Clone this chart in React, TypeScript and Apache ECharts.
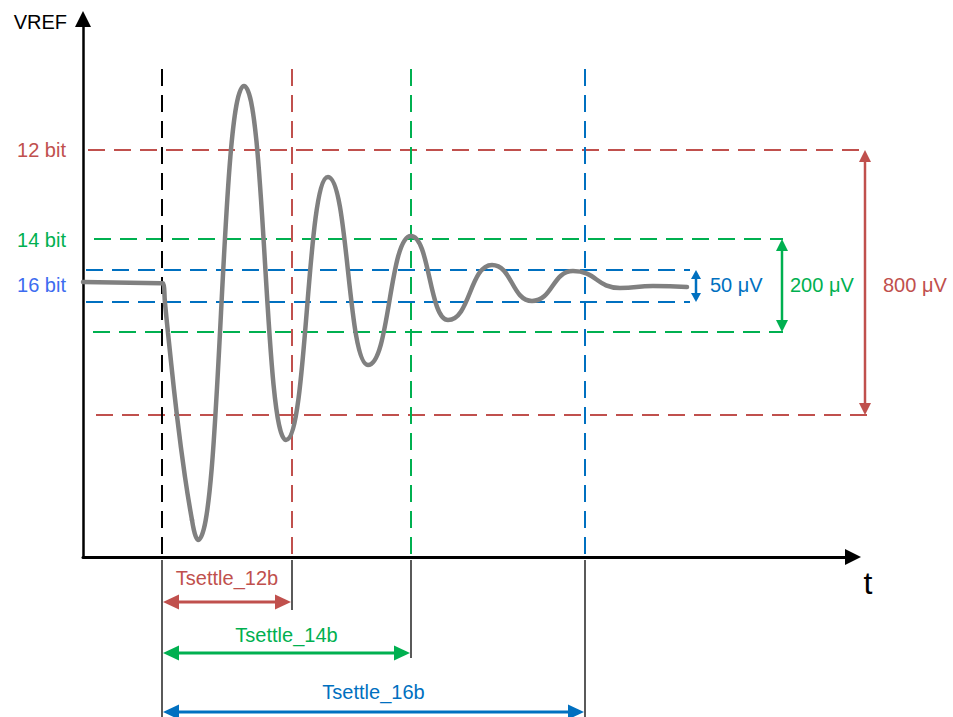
import React, { useEffect, useRef } from 'react';
import * as echarts from 'echarts';

const FONT = '"Liberation Sans", Arial, Helvetica, sans-serif';

// ---------- values ----------
// x: time units from the VREF axis, y: amplitude units above the t axis
// settled level before the step and the initial drop
const leadT = [0, 78, 80, 82, 85, 94, 102, 109];
const leadV = [275, 273.8, 273.7, 254, 224, 141, 80, 37];
// bottom of the drop, then the extremes of the ringing (troughs / crests) and the settled tail
const ringT = [109, 115, 161, 203, 245, 285, 328, 365, 409, 449, 490, 537, 570, 604];
const ringV = [37, 17, 471, 117, 380, 192, 321, 237, 292, 256, 286, 269, 271, 270];

const stepTime = 79;
const resolutions = ['12 bit', '14 bit', '16 bit'];
const bandUpper = [407, 318, 287];
const bandLower = [142, 225, 255];
const bandWidthLabels = ['800 μV', '200 μV', '50 μV'];
const settleTimes = [209, 328, 502];
const settleLabels = ['Tsettle_12b', 'Tsettle_14b', 'Tsettle_16b'];

// ---------- layout anchors (in axis units) ----------
const layout = {
  xMax: 762,
  yMax: 530,
  guideTop: 488,
  guideStartUpper: [5, 11, 3],
  guideStartLower: [13, 10, 3],
  guideEndUpper: [780, 700, 607],
  guideEndLower: [787, 700, 607],
  bandArrowX: [782, 699, 613],
  bandLabelX: [800, 707, 627],
  bandLabelY: 272,
  levelLabelX: -17,
  levelLabelY: [407, 317, 272],
  tsArrowY: [-45, -96, -155],
  tsLabelY: [-21, -78, -135],
  tickTop: -3,
  tickBottom: [-53, -101, -160],
  stepTickBottom: -160,
};

// ---------- styles ----------
const levelColors = ['#C0504D', '#00B050', '#0070C0'];
const levelLabelColors = ['#C0504D', '#00B050', '#3D6CF0'];
const bandArrowHead = [[12, 12], [12, 12], [9, 10]];
const bandArrowWidth = [2.5, 2.5, 2.5];
const tsArrowHead = [16, 15];
const DASH = [17, 9];
const WAVE_COLOR = '#808080';

type Seg = { x1: number; y1: number; x2: number; y2: number; color: string; width: number; dash: boolean };
type Arrow = { x1: number; y1: number; x2: number; y2: number; color: string; width: number; head: number[] };
type Label = { x: number; y: number; text: string; color: string; align: string; size: number };

function buildSegments(): Seg[] {
  const segs: Seg[] = [];
  resolutions.forEach((_, i) => {
    segs.push({ x1: layout.guideStartUpper[i], y1: bandUpper[i], x2: layout.guideEndUpper[i], y2: bandUpper[i], color: levelColors[i], width: 2, dash: true });
    segs.push({ x1: layout.guideStartLower[i], y1: bandLower[i], x2: layout.guideEndLower[i], y2: bandLower[i], color: levelColors[i], width: 2, dash: true });
  });
  segs.push({ x1: stepTime, y1: layout.guideTop, x2: stepTime, y2: 0, color: '#000000', width: 2, dash: true });
  settleTimes.forEach((t, i) => {
    segs.push({ x1: t, y1: layout.guideTop, x2: t, y2: 0, color: levelColors[i], width: 2, dash: true });
  });
  segs.push({ x1: stepTime, y1: layout.tickTop, x2: stepTime, y2: layout.stepTickBottom, color: '#000000', width: 1.3, dash: false });
  settleTimes.forEach((t, i) => {
    segs.push({ x1: t, y1: layout.tickTop, x2: t, y2: layout.tickBottom[i], color: '#000000', width: 1.3, dash: false });
  });
  return segs;
}

function buildArrows(): Arrow[] {
  const arr: Arrow[] = [];
  resolutions.forEach((_, i) => {
    arr.push({ x1: layout.bandArrowX[i], y1: bandLower[i], x2: layout.bandArrowX[i], y2: bandUpper[i], color: levelColors[i], width: bandArrowWidth[i], head: bandArrowHead[i] });
  });
  settleTimes.forEach((t, i) => {
    arr.push({ x1: stepTime + 1, y1: layout.tsArrowY[i], x2: t - 1, y2: layout.tsArrowY[i], color: levelColors[i], width: 3, head: tsArrowHead });
  });
  return arr;
}

function buildLabels(): Label[] {
  const labels: Label[] = [];
  resolutions.forEach((r, i) => {
    labels.push({ x: layout.levelLabelX, y: layout.levelLabelY[i], text: r, color: levelLabelColors[i], align: 'right', size: 20 });
    labels.push({ x: layout.bandLabelX[i], y: layout.bandLabelY, text: bandWidthLabels[i], color: levelColors[i], align: 'left', size: 20 });
  });
  settleTimes.forEach((t, i) => {
    labels.push({ x: (stepTime + t) / 2, y: layout.tsLabelY[i], text: settleLabels[i], color: levelColors[i], align: 'center', size: 20 });
  });
  return labels;
}

export default function App() {
  const ref = useRef<HTMLDivElement>(null);

  useEffect(() => {
    document.body.style.margin = '0';
    if (!ref.current) return;
    const chart = echarts.init(ref.current, null, { renderer: 'svg' });

    const segs = buildSegments();
    const arrows = buildArrows();
    const labels = buildLabels();

    const option: any = {
      animation: false,
      backgroundColor: '#ffffff',
      grid: { left: 83, right: 108, top: 27, bottom: 160, outerBoundsMode: 'none' },
      xAxis: {
        type: 'value',
        min: 0,
        max: layout.xMax,
        name: 't',
        nameLocation: 'end',
        nameGap: 23,
        nameTextStyle: { color: '#000', fontSize: 32, fontFamily: FONT, align: 'center', verticalAlign: 'top', padding: [10, 0, 0, 0] },
        axisLine: {
          show: true,
          symbol: ['none', 'triangle'],
          symbolSize: [16, 16],
          symbolOffset: [0, 8],
          lineStyle: { color: '#000', width: 3 },
        },
        axisTick: { show: false },
        axisLabel: { show: false },
        splitLine: { show: false },
      },
      yAxis: {
        type: 'value',
        min: 0,
        max: layout.yMax,
        name: 'VREF',
        nameLocation: 'end',
        nameGap: 5,
        nameTextStyle: { color: '#000', fontSize: 20, fontFamily: FONT, align: 'right', verticalAlign: 'middle', padding: [0, 16, 0, 0] },
        axisLine: {
          show: true,
          symbol: ['none', 'triangle'],
          symbolSize: [16, 16],
          symbolOffset: [0, 8],
          lineStyle: { color: '#000', width: 2.5 },
        },
        axisTick: { show: false },
        axisLabel: { show: false },
        splitLine: { show: false },
      },
      series: [
        {
          type: 'custom',
          name: 'guides',
          clip: false,
          silent: true,
          z: 2,
          data: segs.map((s) => [s.x1, s.y1, s.x2, s.y2]),
          encode: { x: [0, 2], y: [1, 3] },
          renderItem: (params: any, api: any) => {
            const s = segs[params.dataIndex];
            const p1 = api.coord([s.x1, s.y1]);
            const p2 = api.coord([s.x2, s.y2]);
            return {
              type: 'line',
              shape: { x1: p1[0], y1: p1[1], x2: p2[0], y2: p2[1] },
              style: { stroke: s.color, lineWidth: s.width, lineDash: s.dash ? DASH : null, fill: null },
            };
          },
        },
        {
          type: 'line',
          name: 'step',
          data: leadT.map((t, i) => [t, leadV[i]]),
          smooth: 0.5,
          showSymbol: false,
          silent: true,
          z: 3,
          lineStyle: { color: WAVE_COLOR, width: 4.5, cap: 'round' },
        },
        {
          type: 'line',
          name: 'ringing',
          data: ringT.map((t, i) => [t, ringV[i]]),
          smooth: 0.5,
          smoothMonotone: 'x',
          showSymbol: false,
          silent: true,
          z: 3,
          lineStyle: { color: WAVE_COLOR, width: 4.5, cap: 'round' },
        },
        {
          type: 'custom',
          name: 'arrows',
          clip: false,
          silent: true,
          z: 4,
          data: arrows.map((a) => [a.x1, a.y1, a.x2, a.y2]),
          encode: { x: [0, 2], y: [1, 3] },
          renderItem: (params: any, api: any) => {
            const a = arrows[params.dataIndex];
            const p1 = api.coord([a.x1, a.y1]);
            const p2 = api.coord([a.x2, a.y2]);
            const dx = p2[0] - p1[0];
            const dy = p2[1] - p1[1];
            const len = Math.hypot(dx, dy) || 1;
            const ux = dx / len;
            const uy = dy / len;
            const nx = -uy;
            const ny = ux;
            const L = a.head[0];
            const W = a.head[1];
            const head = (tip: number[], s: number) => [
              [tip[0], tip[1]],
              [tip[0] - s * ux * L + (nx * W) / 2, tip[1] - s * uy * L + (ny * W) / 2],
              [tip[0] - s * ux * L - (nx * W) / 2, tip[1] - s * uy * L - (ny * W) / 2],
            ];
            return {
              type: 'group',
              children: [
                {
                  type: 'line',
                  shape: { x1: p1[0] + ux * L * 0.6, y1: p1[1] + uy * L * 0.6, x2: p2[0] - ux * L * 0.6, y2: p2[1] - uy * L * 0.6 },
                  style: { stroke: a.color, lineWidth: a.width, fill: null },
                },
                { type: 'polygon', shape: { points: head(p2, 1) }, style: { fill: a.color } },
                { type: 'polygon', shape: { points: head(p1, -1) }, style: { fill: a.color } },
              ],
            };
          },
        },
        {
          type: 'custom',
          name: 'labels',
          clip: false,
          silent: true,
          z: 5,
          data: labels.map((l) => [l.x, l.y]),
          encode: { x: 0, y: 1 },
          renderItem: (params: any, api: any) => {
            const l = labels[params.dataIndex];
            const p = api.coord([l.x, l.y]);
            return {
              type: 'text',
              x: p[0],
              y: p[1],
              style: { text: l.text, fill: l.color, fontSize: l.size, fontFamily: FONT, align: l.align, verticalAlign: 'middle' },
            };
          },
        },
      ],
    };

    chart.setOption(option);
    return () => chart.dispose();
  }, []);

  return <div ref={ref} style={{ width: 953, height: 717 }} />;
}
